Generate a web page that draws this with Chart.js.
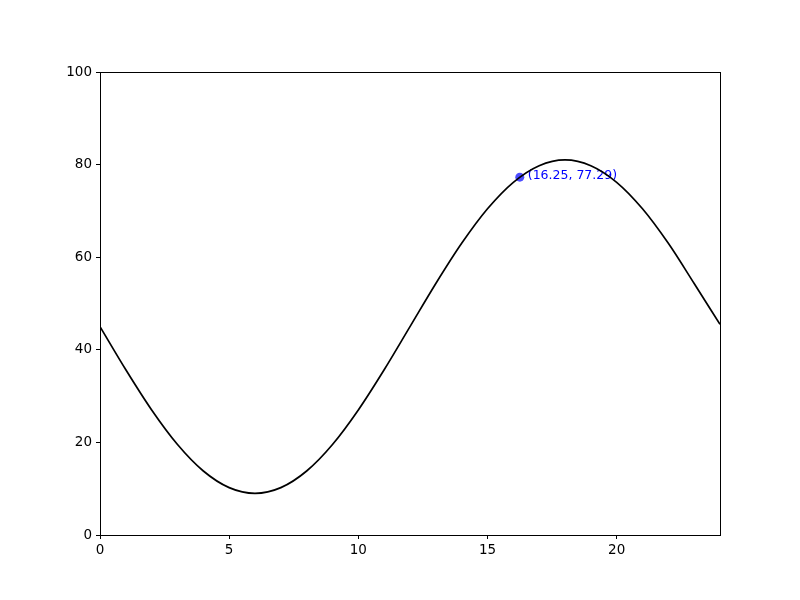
<!DOCTYPE html>
<html>
<head>
<meta charset="utf-8">
<script src="https://cdn.jsdelivr.net/npm/chart.js@4"></script>
<style>
html,body{margin:0;padding:0;background:#fff;}
canvas{display:block;}
</style>
</head>
<body>
<canvas id="c" width="800" height="600"></canvas>
<script>
const hours = [0,1,2,3,4,5,6,7,8,9,10,11,12,13,14,15,16,17,18,19,20,21,22,23,24];
const values = [45,35.68,27,19.54,13.82,10.23,9,10.23,13.82,19.54,27,35.68,45,54.32,63,70.46,76.18,79.77,81,79.77,76.18,70.46,63,54.32,45.5];
const markX = [16.25];
const markY = [77.29];
const markLabels = ['(16.25, 77.29)'];
const xTicks = [0,5,10,15,20];
const yTicks = [0,20,40,60,80,100];

const font = {family:'DejaVu Sans', size:13.5};

const frame = {
  id:'frame',
  beforeDatasetsDraw(chart){
    const {ctx, scales} = chart;
    ctx.save();
    ctx.fillStyle = 'blue';
    ctx.font = '12.5px "DejaVu Sans"';
    ctx.textBaseline = 'middle';
    ctx.textAlign = 'left';
    for (let i=0;i<markX.length;i++){
      const px = scales.x.getPixelForValue(markX[i]);
      const py = scales.y.getPixelForValue(markY[i]);
      ctx.fillText(markLabels[i], px+8, py-1);
    }
    ctx.restore();
  },
  afterDatasetsDraw(chart){
    const {ctx, chartArea:a} = chart;
    ctx.save();
    ctx.strokeStyle = '#000';
    ctx.lineWidth = 1;
    ctx.strokeRect(Math.round(a.left)+0.5, Math.round(a.top)+0.5, Math.round(a.right-a.left), Math.round(a.bottom-a.top));
    ctx.restore();
  }
};

new Chart(document.getElementById('c'), {
  type:'scatter',
  data:{
    datasets:[
      {
        type:'line',
        data: hours.map((h,i)=>({x:h, y:values[i]})),
        borderColor:'#000',
        borderWidth:1.7,
        pointRadius:0,
        fill:false,
        cubicInterpolationMode:'monotone',
        order:0
      },
      {
        type:'scatter',
        data: markX.map((x,i)=>({x, y:markY[i]})),
        backgroundColor:'rgba(0,0,255,0.7)',
        borderWidth:0,
        pointRadius:4.5,
        order:1
      }
    ]
  },
  options:{
    responsive:false,
    animation:false,
    devicePixelRatio:1,
    layout:{padding:{top:72,right:80,left:0,bottom:0}},
    plugins:{legend:{display:false},tooltip:{enabled:false}},
    scales:{
      x:{
        type:'linear', min:0, max:24,
        afterBuildTicks(s){ s.ticks = xTicks.map(v=>({value:v})); },
        afterFit(s){ s.height = 65; },
        grid:{display:true, drawOnChartArea:false, drawTicks:true, tickLength:4, color:'#000'},
        border:{display:true, color:'#000'},
        ticks:{color:'#000', font, padding:3, maxRotation:0}
      },
      y:{
        type:'linear', min:0, max:100,
        afterBuildTicks(s){ s.ticks = yTicks.map(v=>({value:v})); },
        afterFit(s){ s.width = 100; },
        grid:{display:true, drawOnChartArea:false, drawTicks:true, tickLength:4, color:'#000'},
        border:{display:true, color:'#000'},
        ticks:{color:'#000', font, padding:4}
      }
    }
  },
  plugins:[frame]
});
</script>
</body>
</html>
